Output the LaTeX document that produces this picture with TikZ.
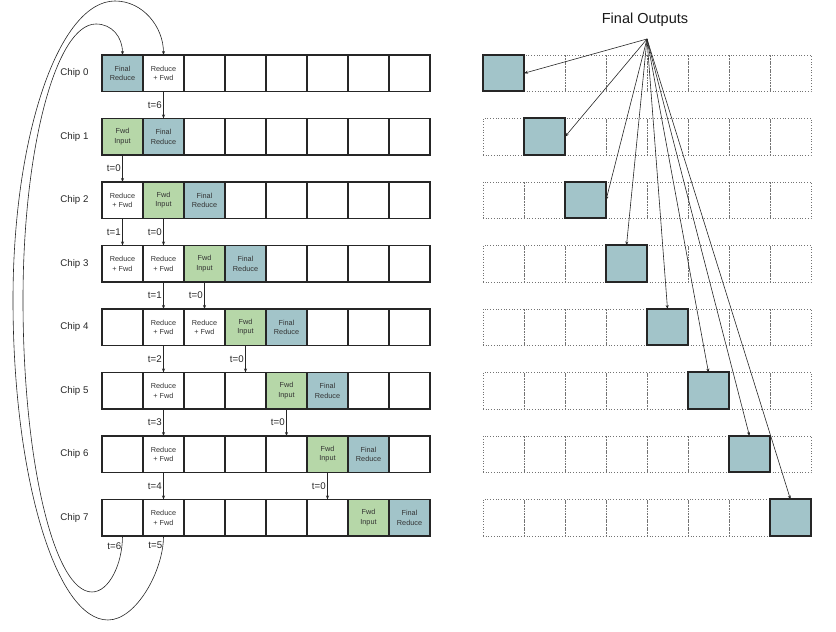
\documentclass[tikz,border=0pt]{standalone}
\usepackage{fontspec}
\setmainfont{Liberation Sans}
\usepackage{xcolor}
\usetikzlibrary{arrows.meta}
\definecolor{finalblue}{HTML}{A2C4C9}
\definecolor{fwdgreen}{HTML}{B6D7A8}

\begin{document}
\begin{tikzpicture}[x=1pt, y=1pt,
    cell/.style={draw=black!85, line width=1.2pt, minimum width=41pt, minimum height=36.5pt,
                 inner sep=0pt, outer sep=0pt, align=center,
                 font=\fontsize{7.3}{9.7}\selectfont, text=black!80},
    ghost/.style={draw=black!55, dotted, line width=0.7pt, minimum width=41pt,
                  minimum height=36.5pt, inner sep=0pt, outer sep=0pt},
    outcell/.style={draw=black!85, fill=finalblue, line width=2pt, minimum width=41pt,
                    minimum height=36.5pt, inner sep=0pt, outer sep=0pt},
    lbl/.style={font=\fontsize{9.7}{11}\selectfont, text=black!85},
    arr/.style={-{Stealth[length=4pt,width=3pt]}, line width=0.6pt, draw=black!85}]
    \useasboundingbox (0,0) rectangle (836,632);

    % Chip rows (left) and output rows (right)
    \foreach \k in {0,...,7} {
        \node[lbl, anchor=east] (chip\k) at ({92},{558.75-63.5*\k}) {Chip \k};
        \foreach \j in {0,...,7} {
            \node[cell] (c\k-\j) at ({122.5+41*\j},{558.75-63.5*\k}) {};
            \node[ghost] (r\k-\j) at ({503.5+41*\j},{558.75-63.5*\k}) {};
        }
    }

    % Cell contents
    \foreach \k/\j in {0/1,2/0,3/0,3/1,4/1,4/2,5/1,6/1,7/1}
        \node[cell] at (c\k-\j) {Reduce\\+ Fwd};
    \foreach \k/\j in {1/0,2/1,3/2,4/3,5/4,6/5,7/6}
        \node[cell, fill=fwdgreen] at (c\k-\j) {Fwd\\Input};
    \foreach \k in {0,...,7}
        \node[cell, fill=finalblue] at (c\k-\k) {Final\\Reduce};

    % Forwarding between chips
    \foreach \k/\j/\t [evaluate=\k as \nk using int(\k+1)] in
        {0/1/6,1/0/0,2/0/1,2/1/0,3/1/1,3/2/0,4/1/2,4/3/0,5/1/3,5/4/0,6/1/4,6/5/0}
        \draw[arr] (c\k-\j.south) -- (c\nk-\j.north)
            node[lbl, midway, left, inner sep=1.5pt] {t=\t};

    % Wrap-around from chip 7 back to chip 0
    \coordinate (outB) at (108,12);
    \coordinate (outL) at (13,332);
    \coordinate (outT) at (115,631);
    \coordinate (inB) at (92,40);
    \coordinate (inL) at (23,332);
    \coordinate (inT) at (96,608);
    \draw[arr] (c7-1.south) node[lbl, anchor=north east, inner sep=1pt, yshift=-5pt] {t=5}
        .. controls +(0,-35) and +(28,0) .. (outB)
        .. controls +(-52,0) and +(0,-177) .. (outL)
        .. controls +(0,165) and +(-56,0) .. (outT)
        .. controls +(28,0) and +(0,28) .. (c0-1.north);
    \draw[arr] (c7-0.south) node[lbl, anchor=north east, inner sep=1pt, yshift=-5pt] {t=6}
        .. controls +(0,-28) and +(17,0) .. (inB)
        .. controls +(-38,0) and +(0,-161) .. (inL)
        .. controls +(0,152) and +(-40,0) .. (inT)
        .. controls +(16,0) and +(0,18) .. (c0-0.north);

    % Final outputs
    \foreach \k in {0,...,7}
        \node[outcell] (o\k) at (r\k-\k) {};
    \node[font=\fontsize{14.5}{16}\selectfont, text=black!90] (title) at (645,612) {Final Outputs};
    \coordinate (src) at (647,593);
    \foreach \k in {0,1,2}
        \draw[arr] (src) -- (o\k.east);
    \foreach \k in {3,...,7}
        \draw[arr] (src) -- (o\k.north);
\end{tikzpicture}
\end{document}
